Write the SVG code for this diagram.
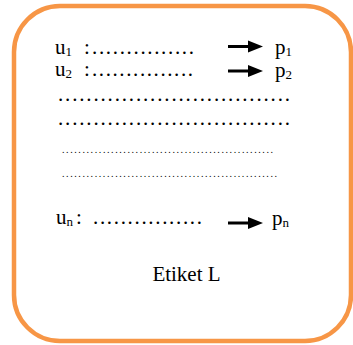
<svg xmlns="http://www.w3.org/2000/svg" xmlns:xlink="http://www.w3.org/1999/xlink" width="353" height="345" viewBox="0 0 353 345">
  <style>
    .t { font-size: 21px; fill: #000; }
    .s { font-size: 13px; }
    .ds { font-size: 10px; fill: #000; }
    .box { fill: #fff; stroke: #F79646; stroke-width: 4.5; }
  </style>
  <defs>
    <g id="arrow">
      <line x1="0" y1="0" x2="22" y2="0" stroke="#000" stroke-width="3"/>
      <polygon points="20,-6 35,0 20,6" fill="#000"/>
    </g>
  </defs>
  <g id="label-L" font-family="Liberation Serif, Times New Roman, serif">
    <rect class="box" x="14" y="6" width="337" height="335" rx="46" ry="46"/>
    <text class="t" x="186.5" y="281" text-anchor="middle" font-family="Liberation Serif, Times New Roman, serif">Etiket L</text>
  </g>
  <g id="row-1">
    <text class="t" x="55" y="54" font-family="Liberation Serif, Times New Roman, serif">u<tspan class="s" dy="2">1</tspan><tspan x="84" y="54">:</tspan></text>
    <text class="t" x="92" y="54" textLength="102" lengthAdjust="spacing" font-family="Liberation Serif, Times New Roman, serif">...............</text>
    <text class="t" x="275" y="54" font-family="Liberation Serif, Times New Roman, serif">p<tspan class="s" dy="2">1</tspan></text>
  </g>
  <g id="row-2">
    <text class="t" x="55" y="76" font-family="Liberation Serif, Times New Roman, serif">u<tspan class="s" dy="2">2</tspan><tspan x="84" y="76">:</tspan></text>
    <text class="t" x="92" y="76" textLength="101" lengthAdjust="spacing" font-family="Liberation Serif, Times New Roman, serif">...............</text>
    <text class="t" x="275" y="77" font-family="Liberation Serif, Times New Roman, serif">p<tspan class="s" dy="2">2</tspan></text>
  </g>
  <g id="row-dots">
    <text class="t" x="58" y="101" textLength="232" lengthAdjust="spacing" font-family="Liberation Serif, Times New Roman, serif">.................................</text>
    <text class="t" x="58" y="125" textLength="232" lengthAdjust="spacing" font-family="Liberation Serif, Times New Roman, serif">.................................</text>
    <text class="ds" x="62" y="153" textLength="211" lengthAdjust="spacing" font-family="Liberation Serif, Times New Roman, serif">....................................................</text>
    <text class="ds" x="62" y="177" textLength="215" lengthAdjust="spacing" font-family="Liberation Serif, Times New Roman, serif">.....................................................</text>
  </g>
  <g id="row-n">
    <text class="t" x="56" y="224" font-family="Liberation Serif, Times New Roman, serif">u<tspan class="s" dy="2">n</tspan><tspan x="76" y="224">:</tspan></text>
    <text class="t" x="93" y="224" textLength="109" lengthAdjust="spacing" font-family="Liberation Serif, Times New Roman, serif">................</text>
    <text class="t" x="272" y="225" font-family="Liberation Serif, Times New Roman, serif">p<tspan class="s" dy="2">n</tspan></text>
  </g>
  <g id="connectors">
    <use xlink:href="#arrow" transform="translate(228,46.5)"/>
    <use xlink:href="#arrow" transform="translate(228,71)"/>
    <use xlink:href="#arrow" transform="translate(228,223)"/>
  </g>
</svg>
